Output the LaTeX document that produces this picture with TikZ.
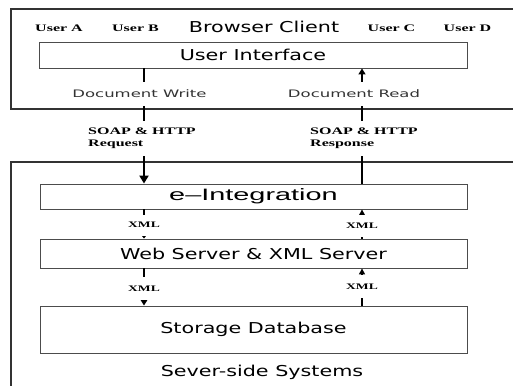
\documentclass[tikz,border=0pt]{standalone}
\usepackage{fontspec}
\usetikzlibrary{arrows.meta}
\newfontfamily\boxfont[FakeStretch=1.38]{DejaVu Sans}
\newfontfamily\thinfont[FakeStretch=1.75]{Liberation Sans}
\newfontfamily\docfont[FakeStretch=1.6]{DejaVu Sans}
\newfontfamily\lblfont[FakeStretch=1.6]{Liberation Serif}
\begin{document}
\begin{tikzpicture}[x=1pt,y=-1pt,
    frame/.style={draw=black!80,line width=1.2pt},
    box/.style={draw=black!70,line width=0.9pt,minimum width=427pt,inner sep=0pt},
    boxtext/.style={font=\boxfont\fontsize{15}{18}\selectfont},
    usertext/.style={font=\lblfont\bfseries\fontsize{10}{12}\selectfont},
    doctext/.style={font=\docfont\fontsize{10.3}{12}\selectfont,text=black!80,fill=white,inner sep=1pt,minimum height=24pt},
    soaptext/.style={font=\lblfont\bfseries\fontsize{10}{12}\selectfont,fill=white,align=left,inner sep=1pt,minimum height=35pt},
    xmltext/.style={font=\lblfont\bfseries\fontsize{8.5}{10}\selectfont,fill=white,inner sep=1pt},
    bigline/.style={line width=2.5pt},
    xmlline/.style={line width=2pt}]
    \useasboundingbox (0,0) rectangle (513,385);
    % client side
    \draw[frame] (514,9) -- (11,9) -- (11,109) -- (514,109);
    \node[usertext] (usera) at (59,28) {User A};
    \node[usertext] (userb) at (135.5,28) {User B};
    \node[boxtext] (client) at (264,27) {Browser Client};
    \node[usertext] (userc) at (391.5,28) {User C};
    \node[usertext] (userd) at (467.5,28) {User D};
    \node[box,boxtext,minimum width=428pt,minimum height=26pt] (ui) at (253,55) {User Interface};
    % server side
    \draw[frame] (514,162) -- (11,162) -- (11,386);
    \node[box,minimum height=25pt,font=\thinfont\fontsize{16.5}{18}\selectfont] (eint) at (253.5,196.5) {e–Integration};
    \node[box,boxtext,minimum height=29pt] (web) at (253.5,253.5) {Web Server \& XML Server};
    \node[box,boxtext,minimum height=47pt] (store) at (253.5,329.5) {Storage Database};
    \node[boxtext] (server) at (262,372) {Sever-side Systems};
    % connectors
    \coordinate (wl) at (144,0);
    \coordinate (wr) at (362,0);
    \draw[bigline,-{Triangle[width=9pt,length=8pt]}] (ui.south -| wl) -- (eint.north -| wl);
    \draw[bigline,{Triangle[width=7pt,length=6pt]}-] (ui.south -| wr) -- (eint.north -| wr);
    \draw[xmlline,-{Triangle[width=6pt,length=4pt]}] (eint.south -| wl) -- (web.north -| wl);
    \draw[xmlline,{Triangle[width=6pt,length=6pt]}-] (eint.south -| wr) -- (web.north -| wr);
    \draw[xmlline,-{Triangle[width=7pt,length=6pt]}] (web.south -| wl) -- (store.north -| wl);
    \draw[xmlline,{Triangle[width=6pt,length=6pt]}-] (web.south -| wr) -- (store.north -| wr);
    % labels on the connectors
    \node[doctext] (docwrite) at (139.5,94) {Document Write};
    \node[doctext] (docread) at (354,94) {Document Read};
    \node[soaptext,anchor=west] (request) at (87,138) {SOAP \& HTTP\\Request};
    \node[soaptext,anchor=west] (response) at (309,138) {SOAP \& HTTP\\Response};
    \node[xmltext,minimum height=21pt] (xmla) at (144,225) {XML};
    \node[xmltext,minimum height=22pt] (xmlb) at (362,226) {XML};
    \node[xmltext,minimum height=23pt] (xmlc) at (144,288.5) {XML};
    \node[xmltext,minimum height=23pt] (xmld) at (362,286.5) {XML};
\end{tikzpicture}
\end{document}
